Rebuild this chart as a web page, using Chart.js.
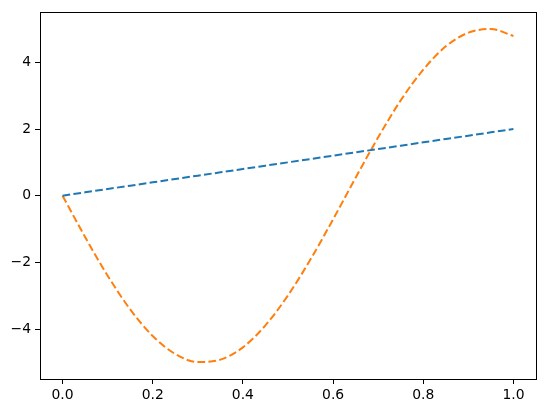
<!DOCTYPE html>
<html>
<head>
<meta charset="utf-8">
<script src="https://cdn.jsdelivr.net/npm/chart.js@4"></script>
<style>
  html, body { margin: 0; padding: 0; background: #fff; }
  #wrap { width: 546px; height: 413px; position: relative; }
</style>
</head>
<body>
<div id="wrap"><canvas id="myChart"></canvas></div>
<script>
// values
const xs = [0, 0.05, 0.1, 0.15, 0.2, 0.25, 0.3, 0.35, 0.4, 0.45, 0.5,
            0.55, 0.6, 0.65, 0.7, 0.75, 0.8, 0.85, 0.9, 0.95, 1.0];
const blueValues = [0, 0.1, 0.2, 0.3, 0.4, 0.5, 0.6, 0.7, 0.8, 0.9, 1.0,
                    1.1, 1.2, 1.3, 1.4, 1.5, 1.6, 1.7, 1.8, 1.9, 2.0];
const orangeValues = [0, -1.24, -2.40, -3.41, -4.21, -4.75, -4.99, -4.92, -4.55, -3.89, -2.99,
                      -1.91, -0.71, 0.54, 1.75, 2.86, 3.78, 4.48, 4.89, 5.0, 4.79];
const xTicks = [0.0, 0.2, 0.4, 0.6, 0.8, 1.0];
const yTicks = [-4, -2, 0, 2, 4];

function points(vals) {
    let out = [];
    for (let i = 0; i < xs.length; i++) {
        out.push({ x: xs[i], y: vals[i] });
    }
    return out;
}

// matplotlib style frame on all four sides
const frame = {
    id: 'frame',
    afterDraw(chart) {
        const a = chart.chartArea;
        const ctx = chart.ctx;
        ctx.save();
        ctx.strokeStyle = '#000';
        ctx.lineWidth = 1;
        ctx.strokeRect(Math.round(a.left) + 0.5, Math.round(a.top) + 0.5,
                       Math.round(a.right - a.left), Math.round(a.bottom - a.top));
        ctx.restore();
    }
};

const tickFont = { family: 'DejaVu Sans', size: 13.9 };

new Chart(document.getElementById('myChart'), {
    type: 'line',
    data: {
        datasets: [{
            data: points(blueValues),
            borderColor: '#1f77b4',
            borderWidth: 2,
            borderDash: [7.7, 3.3],
            pointRadius: 0,
            fill: false
        }, {
            data: points(orangeValues),
            borderColor: '#ff7f0e',
            borderWidth: 2,
            borderDash: [7.7, 3.3],
            pointRadius: 0,
            cubicInterpolationMode: 'monotone',
            fill: false
        }]
    },
    options: {
        responsive: true,
        maintainAspectRatio: false,
        animation: false,
        layout: { padding: { top: 10, right: 10, left: 0, bottom: 0 } },
        plugins: { legend: { display: false }, tooltip: { enabled: false } },
        scales: {
            x: {
                type: 'linear',
                min: -0.05,
                max: 1.05,
                afterBuildTicks: (scale) => { scale.ticks = xTicks.map(v => ({ value: v })); },
                afterFit: (scale) => { scale.height = 34; },
                grid: { drawOnChartArea: false, tickLength: 5, color: '#000' },
                border: { display: false },
                ticks: {
                    color: '#000',
                    font: tickFont,
                    padding: 3,
                    maxRotation: 0,
                    callback: (v) => v.toFixed(1)
                }
            },
            y: {
                min: -5.5,
                max: 5.5,
                afterBuildTicks: (scale) => { scale.ticks = yTicks.map(v => ({ value: v })); },
                afterFit: (scale) => { scale.width = 40; },
                grid: { drawOnChartArea: false, tickLength: 5, color: '#000' },
                border: { display: false },
                ticks: {
                    color: '#000',
                    font: tickFont,
                    padding: 4,
                    callback: (v) => String(v).replace('-', '\u2212')
                }
            }
        }
    },
    plugins: [frame]
});
</script>
</body>
</html>
